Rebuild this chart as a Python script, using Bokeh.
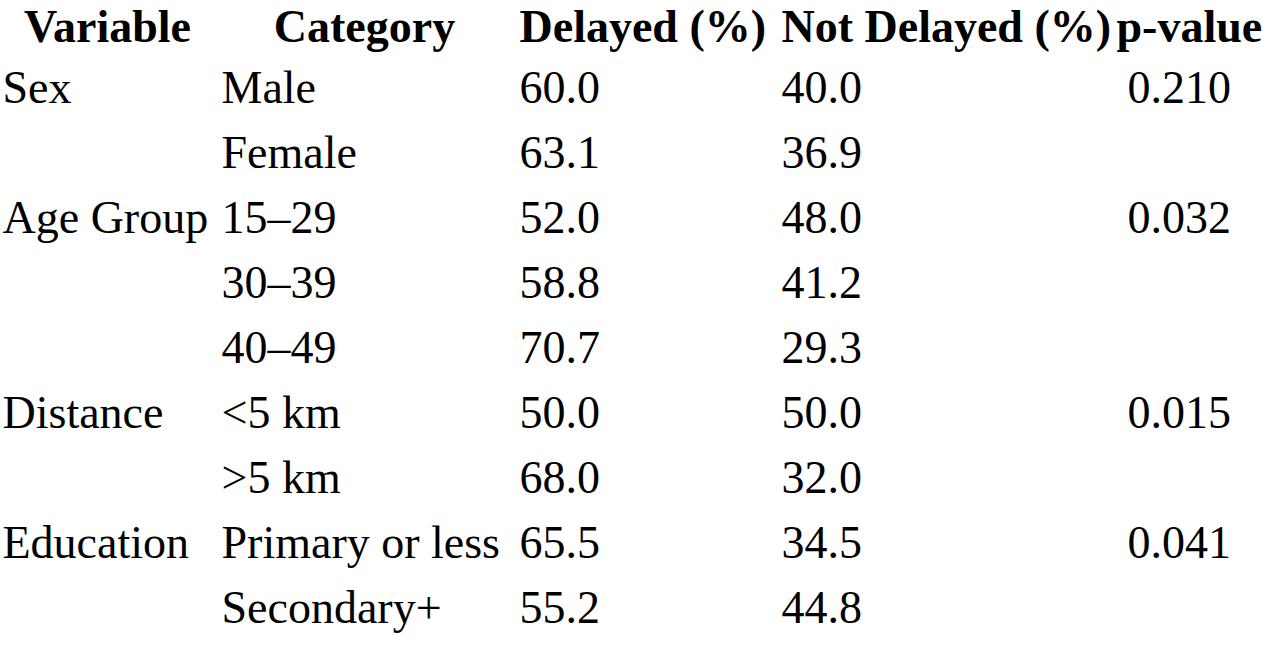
import numpy as np
from bokeh.plotting import figure
from bokeh.models import ColumnDataSource, Range1d
from bokeh.core.properties import value
from bokeh.embed import file_html
from bokeh.resources import INLINE

# ---- data ----
headers = ["Variable", "Category", "Delayed (%)", "Not Delayed (%)", "p-value"]
variables = ["Sex", "", "Age Group", "", "", "Distance", "", "Education", ""]
categories = ["Male", "Female", "15–29", "30–39", "40–49",
              "<5 km", ">5 km", "Primary or less", "Secondary+"]
delayed = [60.0, 63.1, 52.0, 58.8, 70.7, 50.0, 68.0, 65.5, 55.2]
not_delayed = [40.0, 36.9, 48.0, 41.2, 29.3, 50.0, 32.0, 34.5, 44.8]
p_values = [0.210, None, 0.032, None, None, 0.015, None, 0.041, None]

# ---- layout ----
W, H = 1264, 634
FONT = "Liberation Serif"
SIZE = "46px"
header_y = 26
first_row_y = 87
row_gap = 65.0

col_left = [2, 221, 519, 781, 1127]
header_x = [107, 364, 519, 781, 1116]
header_align = ["center", "center", "left", "left", "left"]

n = len(categories)
rows_y = first_row_y + row_gap * np.arange(n)

src = ColumnDataSource(dict(
    y=rows_y,
    var=variables,
    cat=categories,
    d=[f"{v:.1f}" for v in delayed],
    nd=[f"{v:.1f}" for v in not_delayed],
    pv=["" if v is None else f"{v:.3f}" for v in p_values],
))

p = figure(width=W, height=H, output_backend="svg", toolbar_location=None,
           x_range=Range1d(0, W), y_range=Range1d(H, 0), min_border=0)
p.axis.visible = False
p.grid.visible = False
p.outline_line_color = None
p.background_fill_color = "white"
p.border_fill_color = "white"

for i, h in enumerate(headers):
    p.text(x=header_x[i], y=header_y, text=[h], text_align=header_align[i],
           text_baseline="alphabetic", text_font=value(FONT),
           text_font_size=SIZE, text_font_style="bold", text_color="black")

for xcol, field in zip(col_left, ["var", "cat", "d", "nd", "pv"]):
    p.text(x=xcol, y="y", text=field, source=src, text_align="left",
           text_baseline="alphabetic", text_font=value(FONT),
           text_font_size=SIZE, text_color="black")

open("out.html", "w").write(file_html(p, INLINE))
